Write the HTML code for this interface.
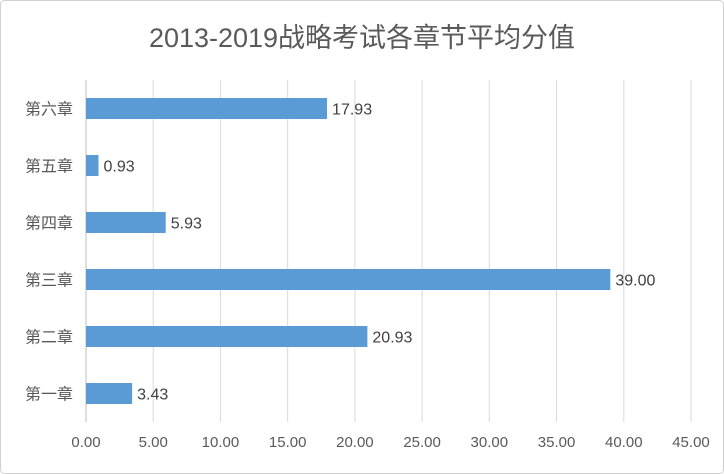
<!DOCTYPE html>
<html><head><meta charset="utf-8">
<style>
html,body{margin:0;padding:0;background:#fff;}
svg{display:block;font-family:"Liberation Sans","Noto Sans CJK SC",sans-serif;}
</style></head>
<body>
<svg id="chart" width="724" height="474" viewBox="0 0 724 474" xmlns="http://www.w3.org/2000/svg">
<rect x="0.5" y="0.5" width="723" height="473" rx="4" fill="#fff" stroke="#d0d0d0"/>
<text x="362" y="47" text-anchor="middle" font-size="27" fill="#595959">2013-2019战略考试各章节平均分值</text>
<g id="grid"></g>
<g id="bars"></g>
<g id="labels"></g>
</svg>
<script>
const categories = ["第一章","第二章","第三章","第四章","第五章","第六章"];
const values = [3.43, 20.93, 39.00, 5.93, 0.93, 17.93];
const ticks = [0,5,10,15,20,25,30,35,40,45];
const ns = "http://www.w3.org/2000/svg";
const x0 = 86, x1 = 691, xMax = 45, plotTop = 80, plotBottom = 422;
const xs = v => x0 + (v / xMax) * (x1 - x0);
const band = (plotBottom - plotTop) / categories.length;
const yc = i => plotBottom - band * (i + 0.5);
function mk(tag, attrs, parent, text){
  const e = document.createElementNS(ns, tag);
  for (const k in attrs) e.setAttribute(k, attrs[k]);
  if (text !== undefined) e.textContent = text;
  parent.appendChild(e); return e;
}
const grid = document.getElementById("grid");
const bars = document.getElementById("bars");
const labels = document.getElementById("labels");
ticks.forEach(t => {
  const l = mk("line", {x1: xs(t), x2: xs(t), y1: plotTop, y2: plotBottom, stroke: t === 0 ? "#bfbfbf" : "#d9d9d9", "stroke-width": 1}, grid);
  
  
  const tx = mk("text", {x: xs(t), y: 447, "text-anchor": "middle", "font-size": 15, fill: "#595959"}, labels, t.toFixed(2));
  
  
});
categories.forEach((c, i) => {
  const y = yc(i);
  const b = mk("rect", {x: xs(0), y: y - 10.5, width: xs(values[i]) - xs(0), height: 21, fill: "#5b9bd5"}, bars);
  
  
  const cl = mk("text", {x: 73, y: y + 6, "text-anchor": "end", "font-size": 16, fill: "#595959"}, labels, c);
  
  
  const vl = mk("text", {x: xs(values[i]) + 5, y: y + 6, "font-size": 16, fill: "#404040"}, labels, values[i].toFixed(2));
  
  
});
</script>
</body></html>
